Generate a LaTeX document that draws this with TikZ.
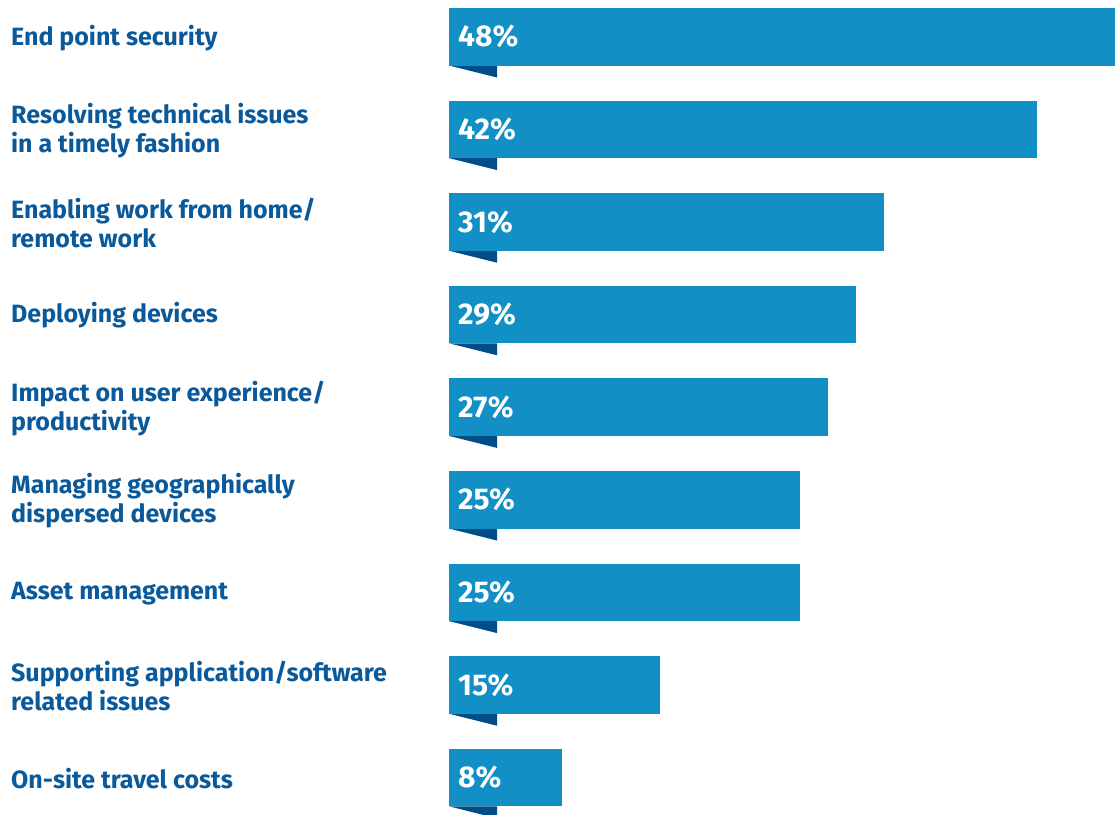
\documentclass[tikz,border=0pt]{standalone}
\usepackage{fontspec}
\setmainfont{Fira Sans}
\usepackage{tikz}
\usetikzlibrary{positioning}
\definecolor{barblue}{HTML}{1290C5}
\definecolor{foldblue}{HTML}{004E89}
\definecolor{labelblue}{HTML}{0A5A9B}
\begin{document}
\begin{tikzpicture}[x=1pt, y=-1pt,
	label/.style={anchor=west, align=left, text=labelblue, inner sep=0pt,
		font=\bfseries\fontsize{25}{29}\selectfont},
	pct/.style={anchor=west, text=white, inner sep=0pt,
		font=\bfseries\fontsize{30}{32}\selectfont}]
	\useasboundingbox (0,0) rectangle (1115,814);

%bars, folds and labels
	\foreach \i/\r/\p/\txt in {
		0/1115/48/{End point security},
		1/1037/42/{Resolving technical issues\\in a timely fashion},
		2/884/31/{Enabling work from home/\\remote work},
		3/856/29/{Deploying devices},
		4/828/27/{Impact on user experience/\\productivity},
		5/800/25/{Managing geographically\\dispersed devices},
		6/800/25/{Asset management},
		7/660/15/{Supporting application/software\\related issues},
		8/562/8/{On-site travel costs}} {
		\pgfmathsetmacro{\t}{8 + 92.6*\i}
		\pgfmathsetmacro{\b}{\t + 57.5}
		\pgfmathsetmacro{\m}{\t + 28.75}
		\fill[foldblue] (449, \b) -- (497, \b) -- (497, \b + 12) -- cycle;
		\fill[barblue] (449, \t) rectangle (\r, \b);
		\node[pct] (pct\i) at (458, \m) {\p\%};
		\node[label] (lab\i) at (11, \m + 1) {\txt};
	}
\end{tikzpicture}
\end{document}
